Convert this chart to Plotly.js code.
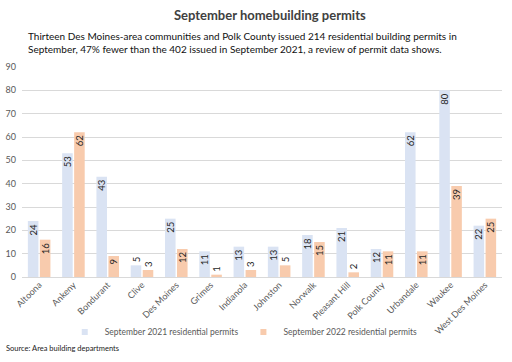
<!DOCTYPE html>
<html><head><meta charset="utf-8">
<script src="https://cdn.plot.ly/plotly-3.0.1.min.js"></script>
<style>html,body{margin:0;padding:0;background:#fff}#c{width:512px;height:362px}</style>
</head><body><div id="c"></div>
<script>
const categories = ["Altoona","Ankeny","Bondurant","Clive","Des Moines","Grimes","Indianola","Johnston","Norwalk","Pleasant Hill","Polk County","Urbandale","Waukee","West Des Moines"];
const permits2021 = [24,53,43,5,25,11,13,13,18,21,12,62,80,22];
const permits2022 = [16,62,9,3,12,1,3,5,15,2,11,11,39,25];
const seriesNames = ["September 2021 residential permits","September 2022 residential permits"];
const seriesColors = ['#dae3f3','#f8cbad'];
const yTicks = [0,10,20,30,40,50,60,70,80,90];

const FONT = "Lato, 'Open Sans', sans-serif";
const plotTop = 67, plotBottom = 277, plotH = plotBottom - plotTop;
const py = p => (plotBottom - p) / plotH;

function bar(vals, name, color){
  return {type:'bar', x:categories, y:vals, name:name, showlegend:false,
    marker:{color:color},
    text:vals.map(String), textposition:'auto', insidetextanchor:'end',
    textangle:-90, constraintext:'none',
    textfont:{family:FONT, size:9.5, color:'#262626'},
    insidetextfont:{family:FONT, size:9.5, color:'#262626'},
    outsidetextfont:{family:FONT, size:9.5, color:'#262626'},
    cliponaxis:false, hoverinfo:'none'};
}
function legendEntry(name, color){
  return {type:'scatter', mode:'markers', x:[null], y:[null], name:name,
    marker:{symbol:'square', size:6, color:color}, hoverinfo:'none', showlegend:true};
}

const data = [
  bar(permits2021, seriesNames[0], seriesColors[0]),
  bar(permits2022, seriesNames[1], seriesColors[1]),
  legendEntry(seriesNames[0], seriesColors[0]),
  legendEntry(seriesNames[1], seriesColors[1])
];

const layout = {
  width:512, height:362,
  margin:{l:22, r:10, t:plotTop, b:362-plotBottom},
  paper_bgcolor:'#fff', plot_bgcolor:'#fff',
  barmode:'group', bargap:0.3, bargroupgap:0.12,
  font:{family:FONT, color:'#595959'},
  title:{text:'<b>September homebuilding permits</b>', x:0.527, xanchor:'center', y:1-15/362, yanchor:'middle', font:{family:FONT, size:13, color:'#404040'}},
  xaxis:{tickangle:-45, tickfont:{family:FONT, size:9, color:'#595959'}, showline:false, ticks:'', automargin:false},
  yaxis:{range:[0,90], tickvals:yTicks, tickfont:{family:FONT, size:9, color:'#595959'}, ticklabelstandoff:5, gridcolor:'#d9d9d9', gridwidth:1, zeroline:true, zerolinecolor:'#d9d9d9', showline:false, ticks:'', automargin:false},
  legend:{orientation:'h', x:0.462, xanchor:'center', y:py(332), yanchor:'middle', bgcolor:'rgba(0,0,0,0)', font:{family:FONT, size:8.5, color:'#595959'}, itemwidth:30, traceorder:'normal'},
  showlegend:true,
  annotations:[
    {xref:'paper', yref:'paper', x:(26-22)/480, xanchor:'left', y:py(42), yanchor:'middle', align:'left', showarrow:false,
     text:'Thirteen Des Moines-area communities and Polk County issued 214 residential building permits in<br>September, 47% fewer than the 402 issued in September 2021, a review of permit data shows.',
     font:{family:FONT, size:10, color:'#111'}},
    {xref:'paper', yref:'paper', x:(4-22)/480, xanchor:'left', y:py(348), yanchor:'middle', showarrow:false,
     text:'Source: Area building departments', font:{family:FONT, size:7.5, color:'#222'}}
  ]
};
Plotly.newPlot('c', data, layout, {displayModeBar:false, staticPlot:true});
</script></body></html>
